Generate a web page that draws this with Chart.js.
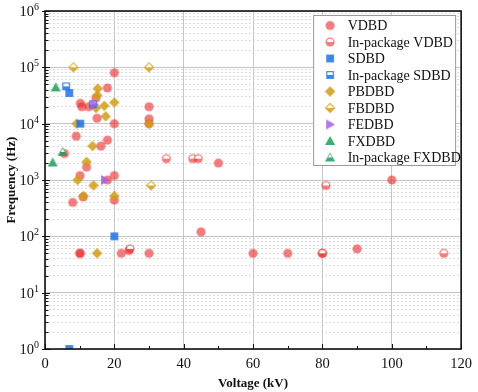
<!DOCTYPE html>
<html>
<head>
<meta charset="utf-8">
<script src="https://cdn.jsdelivr.net/npm/chart.js@4/dist/chart.umd.min.js"></script>
<style>
  html, body { margin: 0; padding: 0; background: #fff; }
  #wrap { width: 478px; height: 392px; }
</style>
</head>
<body>
<div id="wrap"><canvas id="chart"></canvas></div>
<script>
// --- data ---
const vdbdX = [20, 18, 14.7, 10.2, 10.6, 12.6, 15, 30, 30, 30, 20, 9, 18, 16.1, 5.6, 12, 10.1, 18, 20, 8, 20, 11, 50, 100, 45, 10, 10.2, 22, 24.2, 30, 60, 70, 80, 90];
const vdbdY = [80000, 43000, 28500, 23000, 20000, 20000, 12500, 20000, 12200, 10000, 10000, 6000, 5100, 4000, 2950, 1700, 1200, 1000, 1200, 400, 440, 500, 2000, 1000, 120, 50, 50, 50, 56, 50, 50, 50, 50, 60];
const pkgVdbdX = [35, 42.6, 44.2, 81, 24.5, 80, 115];
const pkgVdbdY = [2400, 2400, 2400, 800, 60, 50, 50];
const sdbdX = [7, 10.2, 20, 7];
const sdbdY = [35000, 10000, 100, 1];
const pkgSdbdX = [6.1, 13.8];
const pkgSdbdY = [46000, 22000];
const pbdbdX = [15.2, 15.1, 20, 14.7, 17.1, 17.5, 9.1, 30, 13.7, 12, 9.4, 14, 11.1, 20, 15];
const pbdbdY = [42000, 32000, 23800, 19000, 20700, 13500, 10000, 10000, 4000, 2100, 1000, 800, 520, 520, 50];
const fbdbdX = [8.2, 30, 30.6];
const fbdbdY = [100000, 100000, 800];
const fedbdX = [14.2, 17.3];
const fedbdY = [22000, 1000];
const fxdbdX = [3.1, 2.2];
const fxdbdY = [44000, 2050];
const pkgFxdbdX = [5.1];
const pkgFxdbdY = [3150];

const xTickValues = [0, 20, 40, 60, 80, 100, 120];
const xMinorValues = [10, 30, 50, 70, 90, 110];
const yDecades = [1, 10, 100, 1000, 10000, 100000, 1000000];

// --- helpers ---
const FONT = 'Liberation Serif, Times New Roman, serif';
const pts = (xs, ys) => xs.map((x, i) => ({ x: x, y: ys[i] }));
const isDecade = v => v > 0 && Math.abs(Math.log10(v) - Math.round(Math.log10(v))) < 1e-9;

// every 1..9 step inside each decade, for the dashed minor grid
const yGridValues = [];
yDecades.forEach((d, i) => {
  if (i === yDecades.length - 1) { yGridValues.push(d); return; }
  for (let m = 1; m < 10; m++) yGridValues.push(d * m);
});

function shapePath(g, shape, c, r) {
  g.beginPath();
  if (shape === 'circle') {
    g.arc(c, c, r, 0, Math.PI * 2);
  } else if (shape === 'square') {
    g.rect(c - r * 0.85, c - r * 0.85, r * 1.7, r * 1.7);
  } else if (shape === 'diamond') {
    const d = r * 1.15;
    g.moveTo(c, c - d); g.lineTo(c + d, c); g.lineTo(c, c + d); g.lineTo(c - d, c); g.closePath();
  } else if (shape === 'triUp') {
    g.moveTo(c, c - r * 1.1); g.lineTo(c + r * 1.1, c + r * 0.85); g.lineTo(c - r * 1.1, c + r * 0.85); g.closePath();
  } else if (shape === 'triRight') {
    g.moveTo(c + r * 1.1, c); g.lineTo(c - r * 0.85, c - r * 1.1); g.lineTo(c - r * 0.85, c + r * 1.1); g.closePath();
  }
}

// small canvas used as the point style (half = "in-package" look)
function makeMarker(shape, color, half) {
  const s = 14, c = s / 2, r = 4.6;
  const cv = document.createElement('canvas');
  cv.width = s; cv.height = s;
  const g = cv.getContext('2d');
  g.fillStyle = color;
  shapePath(g, shape, c, r);
  g.fill();
  if (half) {
    g.save();
    g.beginPath(); g.rect(0, 0, s, c); g.clip();
    g.fillStyle = '#fff';
    shapePath(g, shape, c, r - 1.4);
    g.fill();
    g.restore();
  }
  return cv;
}

const RED = 'rgba(232, 40, 40, 0.6)';
const BLUE = 'rgba(30, 112, 228, 0.85)';
const GOLD = 'rgba(208, 156, 22, 0.85)';
const PURPLE = 'rgba(165, 95, 232, 0.85)';
const GREEN = 'rgba(28, 158, 92, 0.85)';

function series(label, xs, ys, shape, color, half, order) {
  return {
    label: label,
    data: pts(xs, ys),
    pointStyle: makeMarker(shape, color, half),
    pointRadius: 5,
    order: order,
    clip: 0
  };
}

const datasets = [
  series('VDBD', vdbdX, vdbdY, 'circle', RED, false, 9),
  series('In-package VDBD', pkgVdbdX, pkgVdbdY, 'circle', RED, true, 8),
  series('SDBD', sdbdX, sdbdY, 'square', BLUE, false, 4),
  series('In-package SDBD', pkgSdbdX, pkgSdbdY, 'square', BLUE, true, 5),
  series('PBDBD', pbdbdX, pbdbdY, 'diamond', GOLD, false, 7),
  series('FBDBD', fbdbdX, fbdbdY, 'diamond', GOLD, true, 6),
  series('FEDBD', fedbdX, fedbdY, 'triRight', PURPLE, false, 3),
  series('FXDBD', fxdbdX, fxdbdY, 'triUp', GREEN, false, 2),
  series('In-package FXDBD', pkgFxdbdX, pkgFxdbdY, 'triUp', GREEN, true, 1)
];

// --- frame, tick marks, y labels and legend ---
const decorations = {
  id: 'decorations',
  afterDatasetsDraw(chart) {
    const g = chart.ctx;
    const a = chart.chartArea;
    const xs = chart.scales.x, ys = chart.scales.y;
    g.save();
    g.strokeStyle = '#111';
    g.lineWidth = 1;
    // y ticks, pointing inward
    yGridValues.forEach(v => {
      const py = Math.round(ys.getPixelForValue(v)) + 0.5;
      const major = isDecade(v);
      g.beginPath();
      g.moveTo(a.left - (major ? 3 : 0), py);
      g.lineTo(a.left + (major ? 5 : 3.5), py);
      g.stroke();
    });
    // x ticks
    xTickValues.concat(xMinorValues).forEach(v => {
      const px = Math.round(xs.getPixelForValue(v)) + 0.5;
      const major = xTickValues.includes(v);
      g.beginPath();
      g.moveTo(px, a.bottom);
      g.lineTo(px, a.bottom - (major ? 5 : 3));
      g.stroke();
    });
    // frame
    g.lineWidth = 1.6;
    g.strokeRect(a.left, a.top, a.right - a.left, a.bottom - a.top);
    g.restore();
  },
  afterDraw(chart) {
    const g = chart.ctx;
    const a = chart.chartArea;
    const ys = chart.scales.y;
    g.save();
    g.fillStyle = '#111';
    // y tick labels 10^k
    yDecades.forEach(v => {
      const py = ys.getPixelForValue(v);
      const exp = String(Math.round(Math.log10(v)));
      g.font = '10px ' + FONT;
      const ew = g.measureText(exp).width;
      const right = a.left - 6;
      g.textAlign = 'left';
      g.textBaseline = 'alphabetic';
      g.fillText(exp, right - ew, py - 1);
      g.font = '14.5px ' + FONT;
      g.textAlign = 'right';
      g.fillText('10', right - ew, py + 5);
    });

    // legend box
    const bx = a.right - 147.5, by = a.top + 4.5, bw = 142, bh = 150;
    g.fillStyle = '#fff';
    g.fillRect(bx, by, bw, bh);
    g.strokeStyle = '#9a9a9a';
    g.lineWidth = 1;
    g.strokeRect(bx, by, bw, bh);
    g.font = '14px ' + FONT;
    g.textAlign = 'left';
    g.textBaseline = 'middle';
    chart.data.datasets.forEach((ds, i) => {
      const cy = by + 10 + i * 16.5;
      const m = ds.pointStyle;
      g.drawImage(m, bx + 16.5 - m.width / 2, cy - m.height / 2);
      g.fillStyle = '#111';
      g.fillText(ds.label, bx + 34, cy + 1);
    });
    g.restore();
  }
};

new Chart(document.getElementById('chart'), {
  type: 'scatter',
  data: { datasets: datasets },
  options: {
    responsive: true,
    maintainAspectRatio: false,
    animation: false,
    devicePixelRatio: 1,
    layout: { padding: { top: 11, right: 12, left: 0, bottom: 0 } },
    plugins: { legend: { display: false }, tooltip: { enabled: false } },
    scales: {
      x: {
        type: 'linear',
        min: 0,
        max: 120,
        afterBuildTicks: s => { s.ticks = xTickValues.map(v => ({ value: v })); },
        afterFit: s => { s.height = 43; },
        grid: { color: '#c6c6c6', lineWidth: 1, drawTicks: false },
        border: { display: false },
        ticks: { font: { family: FONT, size: 14.5 }, color: '#111', padding: 6, maxRotation: 0 },
        title: {
          display: true,
          text: 'Voltage (kV)',
          color: '#111',
          font: { family: FONT, size: 13, weight: 'bold' },
          padding: { top: 0, bottom: 1 }
        }
      },
      y: {
        type: 'logarithmic',
        min: 1,
        max: 1000000,
        afterBuildTicks: s => { s.ticks = yGridValues.map(v => ({ value: v })); },
        afterFit: s => { s.width = 45; },
        grid: {
          drawTicks: false,
          lineWidth: 1,
          color: c => (c.tick && !isDecade(c.tick.value)) ? '#dcdcdc' : '#c6c6c6'
        },
        border: {
          display: false,
          dash: c => (c.tick && !isDecade(c.tick.value)) ? [2, 2] : []
        },
        ticks: { display: false },
        title: {
          display: true,
          text: 'Frequency (Hz)',
          color: '#111',
          font: { family: FONT, size: 13, weight: 'bold' },
          padding: { top: 4, bottom: 0 }
        }
      }
    }
  },
  plugins: [decorations]
});
</script>
</body>
</html>
